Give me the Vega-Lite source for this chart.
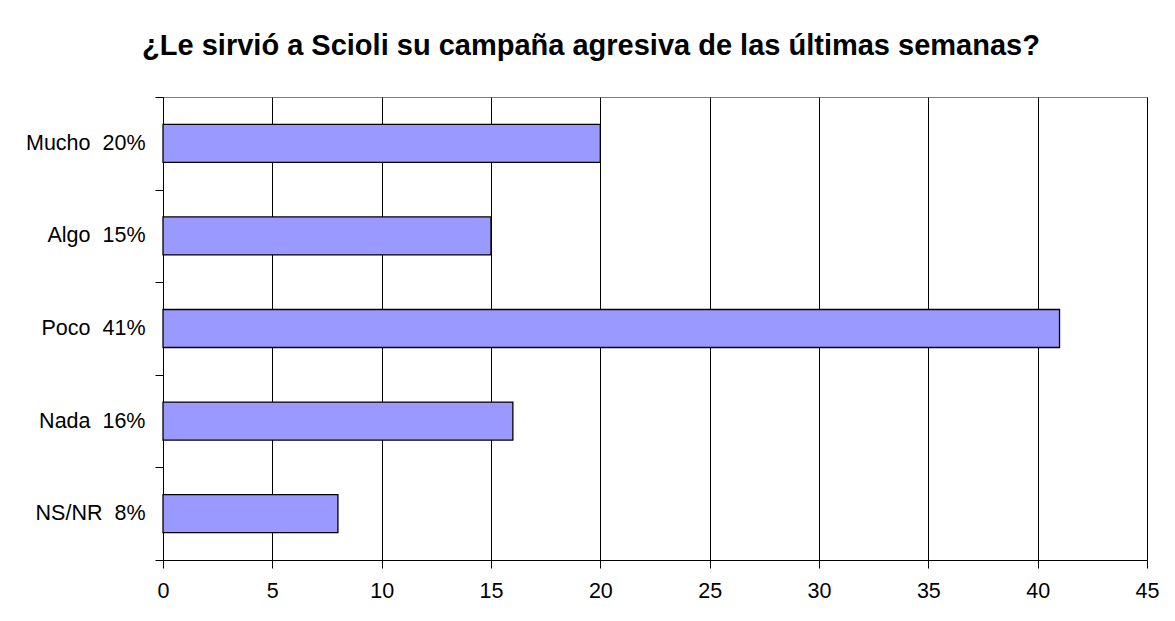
{
  "$schema": "https://vega.github.io/schema/vega-lite/v6.json",
  "width": 984,
  "height": 463,
  "autosize": {"type": "none"},
  "padding": {"left": 163, "top": 97, "right": 28, "bottom": 61},
  "background": "white",
  "title": {
    "text": "¿Le sirvió a Scioli su campaña agresiva de las últimas semanas?",
    "font": "Liberation Sans",
    "fontSize": 29,
    "fontWeight": "bold",
    "color": "black",
    "anchor": "middle",
    "frame": "group",
    "dx": -64,
    "dy": 40,
    "baseline": "alphabetic",
    "offset": 42
  },
  "data": {
    "values": [
      {"cat": "Mucho\u00a0 20%", "v": 20},
      {"cat": "Algo\u00a0 15%", "v": 15},
      {"cat": "Poco\u00a0 41%", "v": 41},
      {"cat": "Nada\u00a0 16%", "v": 16},
      {"cat": "NS/NR\u00a0 8%", "v": 8}
    ]
  },
  "mark": {"type": "bar", "fill": "#9999FF", "stroke": "black", "strokeWidth": 1.3, "height": {"band": 0.41}},
  "encoding": {
    "y": {
      "field": "cat",
      "type": "nominal",
      "sort": null,
      "scale": {"paddingInner": 0, "paddingOuter": 0},
      "axis": {
        "title": null,
        "tickBand": "extent",
        "tickSize": 8,
        "tickColor": "black",
        "domainColor": "black",
        "labelPadding": 10,
        "labelFont": "Liberation Sans",
        "labelFontSize": 21.5,
        "labelColor": "black",
        "grid": false
      }
    },
    "x": {
      "field": "v",
      "type": "quantitative",
      "scale": {"domain": [0, 45], "nice": false},
      "axis": {
        "title": null,
        "values": [0, 5, 10, 15, 20, 25, 30, 35, 40, 45],
        "grid": true,
        "gridColor": "black",
        "gridOpacity": 1,
        "tickSize": 8,
        "tickColor": "black",
        "domainColor": "black",
        "labelPadding": 12,
        "labelFont": "Liberation Sans",
        "labelFontSize": 21.5,
        "labelColor": "black",
        "labelFlush": false,
        "labelOverlap": false
      }
    }
  },
  "config": {"view": {"stroke": "#808080"}}
}
